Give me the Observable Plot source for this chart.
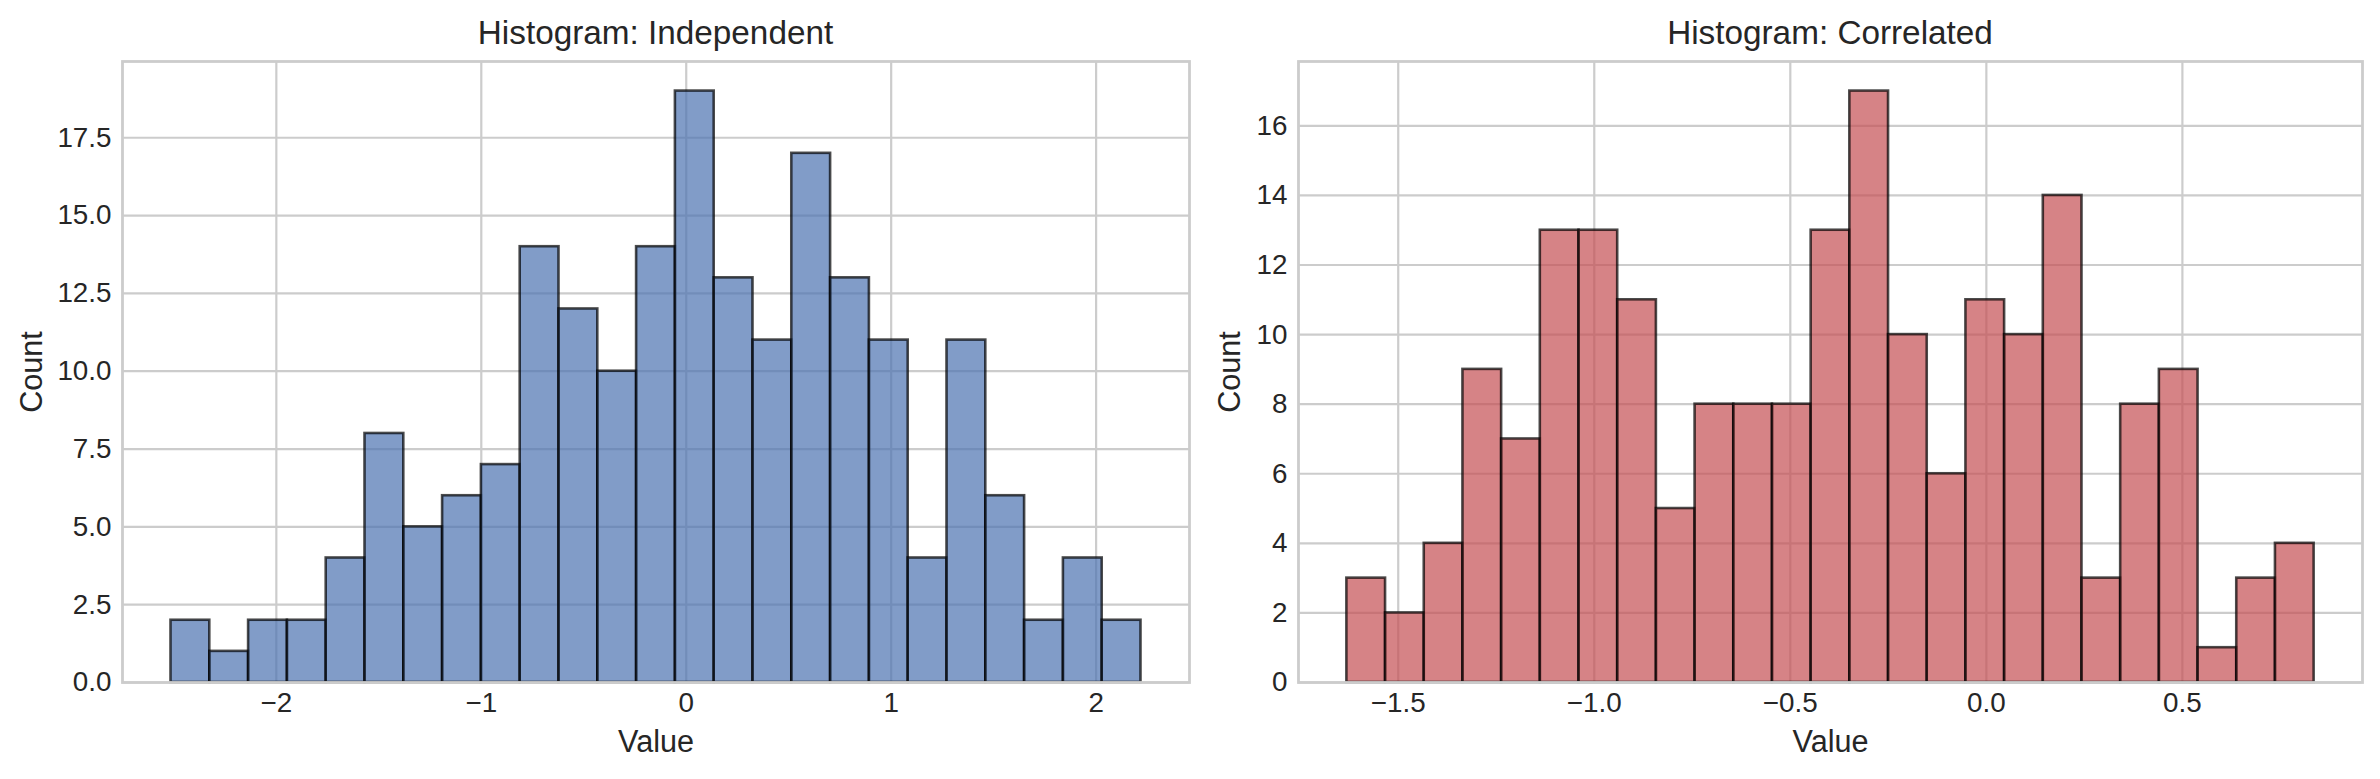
<!DOCTYPE html>
<html>
<head>
<meta charset="utf-8">
<script src="https://cdn.jsdelivr.net/npm/d3@7"></script>
<script src="https://cdn.jsdelivr.net/npm/@observablehq/plot@0.6"></script>
<style>
  html, body { margin: 0; padding: 0; background: #ffffff; }
  #wrap { position: relative; width: 2380px; height: 779px; display: flex; flex-direction: row; }
  .panel { display: flex; flex-direction: column; }
  .title { height: 59px; box-sizing: border-box; padding-top: 16px; line-height: 1; font-family: "Liberation Sans", Arial, sans-serif; font-size: 33.3px; color: #262626; text-align: center; white-space: nowrap; }
</style>
</head>
<body>
<div id="wrap"></div>
<script>
// ---- Data ----
const titles = ["Histogram: Independent", "Histogram: Correlated"];
const xLabel = "Value";
const yLabel = "Count";

// Independent sample: 25 equal bins between these edges
const indepRange = [-2.514, 2.219];
const indepCounts = [2, 1, 2, 2, 4, 8, 5, 6, 7, 14, 12, 10, 14, 19, 13, 11, 17, 13, 11, 4, 11, 6, 2, 4, 2];
const indepXTicks = [-2, -1, 0, 1, 2];
const indepYTicks = [0, 2.5, 5, 7.5, 10, 12.5, 15, 17.5];

// Correlated sample: 25 equal bins between these edges
const corrRange = [-1.631, 0.836];
const corrCounts = [3, 2, 4, 9, 7, 13, 13, 11, 5, 8, 8, 8, 13, 17, 10, 6, 11, 10, 14, 3, 8, 9, 1, 3, 4];
const corrXTicks = [-1.5, -1.0, -0.5, 0.0, 0.5];
const corrYTicks = [0, 2, 4, 6, 8, 10, 12, 14, 16];

const colors = ["#4C72B0", "#C44E52"];

// ---- Helpers ----
const minus = s => s.replace("-", "\u2212");
function bins(range, counts) {
  const n = counts.length, w = (range[1] - range[0]) / n;
  return counts.map((c, i) => ({x1: range[0] + i * w, x2: range[0] + (i + 1) * w, count: c}));
}

function panel({title, range, counts, xTicks, xFmt, yTicks, yFmt, color, width, marginLeft, marginRight, yLabelOffset}) {
  const data = bins(range, counts);
  const span = range[1] - range[0];
  const xDomain = [range[0] - 0.05 * span, range[1] + 0.05 * span];
  const yDomain = [0, d3.max(counts) * 1.05];
  const font = "Liberation Sans, Arial, sans-serif";
  const div = document.createElement("div");
  div.className = "panel";
  div.style.width = width + "px";
  const t = document.createElement("div");
  t.className = "title";
  t.style.paddingLeft = marginLeft + "px";
  t.style.paddingRight = marginRight + "px";
  t.textContent = title;
  div.appendChild(t);
  const svg = Plot.plot({
    width,
    height: 720,
    marginLeft,
    marginRight,
    marginTop: 2,
    marginBottom: 97,
    style: {fontFamily: font, fontSize: "27.8px", color: "#262626", background: "#ffffff", overflow: "visible"},
    x: {domain: xDomain},
    y: {domain: yDomain},
    marks: [
      Plot.gridX(xTicks, {stroke: "#cccccc", strokeOpacity: 1, strokeWidth: 2.2}),
      Plot.gridY(yTicks, {stroke: "#cccccc", strokeOpacity: 1, strokeWidth: 2.2}),
      Plot.rectY(data, {x1: "x1", x2: "x2", y: "count", inset: 0, fill: color, fillOpacity: 0.7, stroke: "#000000", strokeOpacity: 0.7, strokeWidth: 2.6}),
      Plot.axisX(xTicks, {tickSize: 0, tickPadding: 10, tickFormat: xFmt, label: null, fontSize: 27.8, fill: "#262626"}),
      Plot.axisX([], {label: xLabel, labelAnchor: "center", labelOffset: 69, labelArrow: "none", fontSize: 30.6, fill: "#262626"}),
      Plot.axisY(yTicks, {tickSize: 0, tickPadding: 11, tickFormat: yFmt, label: null, fontSize: 27.8, fill: "#262626"}),
      Plot.axisY([], {label: yLabel, labelAnchor: "center", labelOffset: yLabelOffset, labelArrow: "none", fontSize: 30.6, fill: "#262626"}),
      Plot.frame({stroke: "#cccccc", strokeOpacity: 1, strokeWidth: 2.8})
    ]
  });
  div.appendChild(svg);
  return div;
}

const wrap = document.getElementById("wrap");
wrap.appendChild(panel({
  title: titles[0], range: indepRange, counts: indepCounts,
  xTicks: indepXTicks, xFmt: d => minus(String(d)),
  yTicks: indepYTicks, yFmt: d => d.toFixed(1),
  color: colors[0], width: 1200, marginLeft: 122, marginRight: 11, yLabelOffset: 102
}));
wrap.appendChild(panel({
  title: titles[1], range: corrRange, counts: corrCounts,
  xTicks: corrXTicks, xFmt: d => minus(d.toFixed(1)),
  yTicks: corrYTicks, yFmt: d => String(d),
  color: colors[1], width: 1180, marginLeft: 98, marginRight: 18, yLabelOffset: 80
}));
</script>
</body>
</html>
